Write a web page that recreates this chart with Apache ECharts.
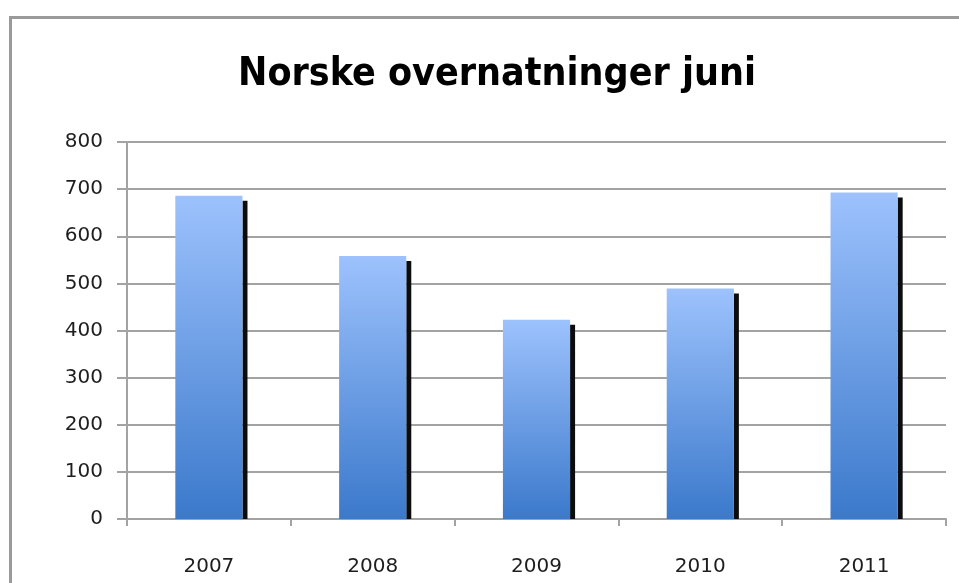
<!DOCTYPE html>
<html>
  <head>
    <meta charset="utf-8">
    <title>Norske overnatninger juni</title>
    <style>
      html, body { margin: 0; padding: 0; background: #fff; }
      #wrap { width: 959px; height: 583px; }
    </style>
    <script src="https://cdn.jsdelivr.net/npm/echarts@6/dist/echarts.min.js" charset="utf-8"></script>
  </head>
  <body>
    <div id="wrap"></div>
    <script>
      // data
      var years = ['2007', '2008', '2009', '2010', '2011'];
      var nights = [686, 558, 423, 489, 693];
      var yTicks = [0, 100, 200, 300, 400, 500, 600, 700, 800];

      var chart = echarts.init(document.getElementById('wrap'));
      var gridColor = '#a3a3a3';
      var labelFont = 'DejaVu Sans, sans-serif';

      // bar with a thin black shadow on its right side
      function renderBar(params, api) {
        var top = api.coord([api.value(0), api.value(1)]);
        var base = api.coord([api.value(0), 0]);
        var band = api.size([1, 0])[0];
        var w = band * 0.41;
        var x = top[0] - w / 2;
        var h = base[1] - top[1];
        return {
          type: 'group',
          children: [
            {
              type: 'rect',
              shape: { x: x + w, y: top[1] + 5, width: 5, height: h - 5 },
              style: { fill: '#0c0c0c' }
            },
            {
              type: 'rect',
              shape: { x: x, y: top[1], width: w, height: h },
              style: {
                fill: {
                  type: 'linear', x: 0, y: 0, x2: 0, y2: 1,
                  colorStops: [
                    { offset: 0, color: '#9dc2fd' },
                    { offset: 1, color: '#3b79cb' }
                  ]
                }
              }
            }
          ]
        };
      }

      var option = {
        animation: false,
        title: {
          text: 'Norske overnatninger juni',
          left: 492,
          textAlign: 'center',
          top: 50,
          textStyle: {
            fontFamily: '"DejaVu Sans Condensed", "DejaVu Sans", sans-serif',
            fontWeight: 'bold',
            fontSize: 39,
            color: '#000'
          }
        },
        graphic: [{
          type: 'rect',
          shape: { x: 10.5, y: 17.5, width: 1000, height: 700 },
          style: { fill: null, stroke: '#9a9a9a', lineWidth: 3 },
          silent: true
        }],
        grid: { left: 127, right: 13, top: 142, bottom: 64 },
        xAxis: {
          type: 'category',
          data: years,
          boundaryGap: true,
          axisLine: { lineStyle: { color: gridColor, width: 2 } },
          axisTick: { show: true, length: 7, lineStyle: { color: gridColor, width: 2 } },
          axisLabel: { margin: 38, fontFamily: labelFont, fontSize: 20, color: '#1e1e1e' }
        },
        yAxis: {
          type: 'value',
          min: yTicks[0],
          max: yTicks[yTicks.length - 1],
          interval: 100,
          axisLine: { show: true, lineStyle: { color: gridColor, width: 2 } },
          axisTick: { show: true, length: 10, lineStyle: { color: gridColor, width: 2 } },
          axisLabel: { margin: 24, fontFamily: labelFont, fontSize: 20, color: '#1e1e1e' },
          splitLine: { lineStyle: { color: gridColor, width: 2 } }
        },
        series: [{
          type: 'custom',
          renderItem: renderBar,
          encode: { x: 0, y: 1 },
          data: years.map(function (y, i) { return [i, nights[i]]; })
        }]
      };
      chart.setOption(option);
    </script>
  </body>
</html>
